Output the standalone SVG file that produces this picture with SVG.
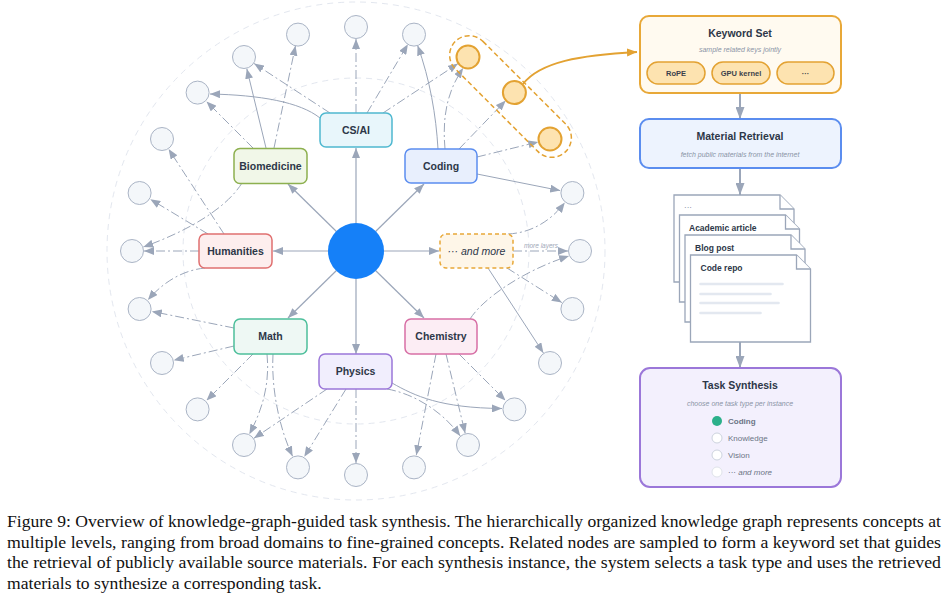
<svg xmlns="http://www.w3.org/2000/svg" width="951" height="603" viewBox="0 0 951 603">
<defs>
<style>
.ring{fill:none;stroke:#e3e7ef;stroke-width:1;stroke-dasharray:6 5}
.leaf{fill:#f4f7fa;stroke:#aab4c5;stroke-width:1}
.hl{fill:#fde3b0;stroke:#e3a232;stroke-width:2}
.ce{fill:none;stroke:#9ba6b9;stroke-width:1.2;marker-end:url(#ah)}
.e{fill:none;stroke:#9ba6b9;stroke-width:1;stroke-dasharray:9 3 2 3;marker-end:url(#ah)}
.es{fill:none;stroke:#9ba6b9;stroke-width:1;marker-end:url(#ah)}
.pa{fill:none;stroke:#9ba6b9;stroke-width:2;marker-end:url(#ahp)}
.nt{font-family:"Liberation Sans",Arial,sans-serif;font-weight:bold;font-size:10.5px;fill:#2d3748;text-anchor:middle}
.tt{font-family:"Liberation Sans",Arial,sans-serif;font-weight:bold;font-size:10.5px;fill:#2d3748;text-anchor:middle}
.st{font-family:"Liberation Sans",Arial,sans-serif;font-style:italic;font-size:7px;fill:#8a94a6;text-anchor:middle}
.pt{font-family:"Liberation Sans",Arial,sans-serif;font-weight:bold;font-size:7.5px;fill:#3a3f4a;text-anchor:middle}
.dt{font-family:"Liberation Sans",Arial,sans-serif;font-weight:bold;font-size:8.5px;fill:#2d3748}
.ot{font-family:"Liberation Sans",Arial,sans-serif;font-size:8px;fill:#6b7485}
.doc{fill:#ffffff;stroke:#9ba6b9;stroke-width:1.3}
.cap{font-family:"Liberation Serif","Times New Roman",serif;font-size:17.6px;fill:#111111}
</style>
<marker id="ah" viewBox="0 0 10 8" refX="10" refY="4" markerWidth="10" markerHeight="8" markerUnits="userSpaceOnUse" orient="auto"><path d="M0,0 L10,4 L0,8 z" fill="#9ba6b9"/></marker>
<marker id="aho" viewBox="0 0 10 8" refX="10" refY="4" markerWidth="10" markerHeight="8" markerUnits="userSpaceOnUse" orient="auto"><path d="M0,0 L10,4 L0,8 z" fill="#e3a232"/></marker>
<marker id="ahp" viewBox="0 0 12 9" refX="12" refY="4.5" markerWidth="12" markerHeight="9" markerUnits="userSpaceOnUse" orient="auto"><path d="M0,0 L12,4.5 L0,9 z" fill="#9ba6b9"/></marker>
</defs>

<!-- rings -->
<circle class="ring" cx="356" cy="251" r="173"/>
<circle class="ring" cx="356" cy="251" r="249"/>

<!-- connectors -->
<g id="connectors">
<!-- center to domains -->
<path class="ce" d="M356,223 L356,148"/>
<path class="ce" d="M356,279 L356,354"/>
<path class="ce" d="M328,251 L273,251"/>
<path class="ce" d="M384,251 L439,251"/>
<path class="ce" d="M375.8,231.2 L424,184"/>
<path class="ce" d="M336.2,231.2 L288,184"/>
<path class="ce" d="M336.2,270.8 L288,318"/>
<path class="ce" d="M375.8,270.8 L424,318"/>
<!-- Biomedicine -->
<path class="es" d="M266,148 L246.8,68.7"/>
<path class="e" d="M274,148 L295.5,45.7"/>
<path class="e" d="M253,148 L206.5,101.5"/>
<path class="e" d="M242,183 C225,210 185,232 143.3,247"/>
<!-- CS/AI -->
<path class="e" d="M330,113 L254.1,63.5"/>
<path class="es" d="M320,118 C300,102 260,95 210,94"/>
<path class="e" d="M356,113 L356,39"/>
<path class="e" d="M367,113 L407.9,44.3"/>
<path class="e" d="M383,113 L458,63.6"/>
<!-- Coding -->
<path class="es" d="M438,149 C436,115 430,80 417.6,45.4"/>
<path class="e" d="M445,149 C442,115 448,90 463.2,68"/>
<path class="e" d="M459,149 L505.7,100.6"/>
<path class="e" d="M477,157 L538.3,141.9"/>
<path class="es" d="M477,174 L560.2,190.6"/>
<!-- and more -->
<path class="e" d="M508,234 C530,233 550,222 564.8,202.6"/>
<path class="e" d="M513,251 L568,251"/>
<path class="e" d="M507,268 L561.8,302.6"/>
<path class="es" d="M488,268 L543.4,352.9"/>
<!-- Chemistry -->
<path class="e" d="M470,319 C482,300 520,272 569,255.9"/>
<path class="e" d="M459,354 L505.5,400.5"/>
<path class="e" d="M446,354 L465.2,433.3"/>
<path class="e" d="M436,354 L416.3,455.2"/>
<!-- Physics -->
<path class="es" d="M392,383 C415,396 440,408 502,408.5"/>
<path class="e" d="M387,389 C410,393 440,408 460.2,435.9"/>
<path class="e" d="M356,389 L356,463"/>
<path class="e" d="M346,389 L304.3,456.8"/>
<path class="e" d="M327,389 L253.9,438.3"/>
<!-- Math -->
<path class="e" d="M234,328 L151.8,311.4"/>
<path class="e" d="M234,346 L173.7,360.2"/>
<path class="e" d="M253,354 L206.5,400.5"/>
<path class="e" d="M267,354 C270,385 262,410 249.4,434.3"/>
<path class="e" d="M273,354 C271,390 280,430 292.6,456.3"/>
<!-- Humanities -->
<path class="e" d="M224,234 L168.6,149.1"/>
<path class="e" d="M208,234 L150.3,199.2"/>
<path class="e" d="M199,251 L144,251"/>
<path class="e" d="M205,268 C185,270 165,280 147.9,300"/>
<!-- to keyword set -->
<path d="M523,84 C540,62 580,55 637,52" fill="none" stroke="#e3a232" stroke-width="1.8" marker-end="url(#aho)"/>
<!-- panel arrows -->
<path class="pa" d="M740,93 L740,119"/>
<path class="pa" d="M740,168 L740,195"/>
<path class="pa" d="M740,342 L740,368"/>
</g>
<text x="541" y="248" font-family="Liberation Sans, Arial, sans-serif" font-style="italic" font-size="6.5" fill="#a0a8b8" text-anchor="middle">more layers</text>

<!-- leaves -->
<g id="leaves">
<circle class="leaf" cx="580" cy="251" r="11.5"/>
<circle class="leaf" cx="572.4" cy="193" r="11.5"/>
<circle class="leaf" cx="356" cy="27" r="11.5"/>
<circle class="leaf" cx="414" cy="34.6" r="11.5"/>
<circle class="leaf" cx="298" cy="34.6" r="11.5"/>
<circle class="leaf" cx="244" cy="57" r="11.5"/>
<circle class="leaf" cx="197.6" cy="92.6" r="11.5"/>
<circle class="leaf" cx="162" cy="139" r="11.5"/>
<circle class="leaf" cx="139.6" cy="193" r="11.5"/>
<circle class="leaf" cx="132" cy="251" r="11.5"/>
<circle class="leaf" cx="139.6" cy="309" r="11.5"/>
<circle class="leaf" cx="162" cy="363" r="11.5"/>
<circle class="leaf" cx="197.6" cy="409.4" r="11.5"/>
<circle class="leaf" cx="244" cy="445" r="11.5"/>
<circle class="leaf" cx="298" cy="467.4" r="11.5"/>
<circle class="leaf" cx="356" cy="475" r="11.5"/>
<circle class="leaf" cx="414" cy="467.4" r="11.5"/>
<circle class="leaf" cx="468" cy="445" r="11.5"/>
<circle class="leaf" cx="514.4" cy="409.4" r="11.5"/>
<circle class="leaf" cx="550" cy="363" r="11.5"/>
<circle class="leaf" cx="572.4" cy="309" r="11.5"/>
</g>
<g id="selected">
<rect x="-78" y="-19.5" width="156" height="39" rx="19.5" transform="translate(510.5,96.5) rotate(45)" fill="none" stroke="#e3a232" stroke-width="1.5" stroke-dasharray="5 3"/>
<circle class="hl" cx="468" cy="57" r="11.5"/>
<circle class="hl" cx="514.4" cy="92.6" r="11.5"/>
<circle class="hl" cx="550" cy="139" r="11.5"/>
</g>

<!-- center -->
<g id="root"><circle cx="356" cy="251" r="28" fill="#1580f8"/></g>

<!-- domain nodes -->
<g id="csai"><rect x="320" y="113" width="72" height="34" rx="6" fill="#e8f6fb" stroke="#4fb8d0" stroke-width="1.5"/><text class="nt" x="356" y="133.7">CS/AI</text></g>
<g id="biomedicine"><rect x="234" y="148.5" width="73" height="35" rx="6" fill="#f1f7e8" stroke="#8db04f" stroke-width="1.5"/><text class="nt" x="270.5" y="169.7">Biomedicine</text></g>
<g id="coding"><rect x="405" y="149" width="72" height="34" rx="6" fill="#e8effd" stroke="#5b8def" stroke-width="1.5"/><text class="nt" x="441" y="169.7">Coding</text></g>
<g id="humanities"><rect x="199" y="234" width="73" height="34" rx="6" fill="#fdeeee" stroke="#e07070" stroke-width="1.5"/><text class="nt" x="235.5" y="254.7">Humanities</text></g>
<g id="andmore"><rect x="440" y="234" width="73" height="34" rx="6" fill="#fef6e8" stroke="#e8a838" stroke-width="1.5" stroke-dasharray="4 3"/><text x="476.5" y="254.7" font-family="Liberation Sans, Arial, sans-serif" font-style="italic" font-size="10.5" fill="#2d3748" text-anchor="middle">··· and more</text></g>
<g id="math"><rect x="234" y="319" width="73" height="35" rx="6" fill="#eef8f4" stroke="#4dbf9b" stroke-width="1.5"/><text class="nt" x="270.5" y="340.2">Math</text></g>
<g id="chemistry"><rect x="405" y="319" width="72" height="35" rx="6" fill="#fcedf4" stroke="#d76fa5" stroke-width="1.5"/><text class="nt" x="441" y="340.2">Chemistry</text></g>
<g id="physics"><rect x="319" y="354" width="73" height="35" rx="6" fill="#f1eefd" stroke="#9b77d9" stroke-width="1.5"/><text class="nt" x="355.5" y="375.2">Physics</text></g>

<!-- right panel -->
<g id="keyword-set">
<rect x="640" y="16" width="201" height="77" rx="9" fill="#fffaf0" stroke="#e8a838" stroke-width="2"/>
<text class="tt" x="740" y="37">Keyword Set</text>
<text class="st" x="740" y="52">sample related keys jointly</text>
<rect x="647" y="62" width="58" height="22" rx="11" fill="#fde3b0" stroke="#e3a232" stroke-width="1.5"/>
<text class="pt" x="676" y="75.8">RoPE</text>
<rect x="712" y="62" width="58" height="22" rx="11" fill="#fde3b0" stroke="#e3a232" stroke-width="1.5"/>
<text class="pt" x="741" y="75.8">GPU kernel</text>
<rect x="777" y="62" width="57" height="22" rx="11" fill="#fde3b0" stroke="#e3a232" stroke-width="1.5"/>
<text class="pt" x="805.5" y="75.8">···</text>
</g>
<g id="material-retrieval">
<rect x="640" y="119" width="201" height="49" rx="9" fill="#edf3fe" stroke="#5b8def" stroke-width="2"/>
<text class="tt" x="740" y="140">Material Retrieval</text>
<text class="st" x="740" y="157">fetch public materials from the internet</text>
</g>
<g id="documents">
<g transform="translate(674,195)"><path class="doc" d="M0,0 H106 L120,14 V87 H0 Z"/><path class="doc" d="M106,0 V14 H120" fill="none"/><text x="10" y="15" font-family="Liberation Sans, Arial, sans-serif" font-size="8" fill="#6b7485">···</text></g>
<g transform="translate(679.5,215)"><path class="doc" d="M0,0 H106 L120,14 V87 H0 Z"/><path class="doc" d="M106,0 V14 H120" fill="none"/><text class="dt" x="9.5" y="16">Academic article</text></g>
<g transform="translate(685,235)"><path class="doc" d="M0,0 H106 L120,14 V87 H0 Z"/><path class="doc" d="M106,0 V14 H120" fill="none"/><text class="dt" x="10" y="16">Blog post</text></g>
<g transform="translate(690.5,255)"><path class="doc" d="M0,0 H106 L120,14 V87 H0 Z"/><path class="doc" d="M106,0 V14 H120" fill="none"/><text class="dt" x="10" y="16">Code repo</text>
<g stroke="#e3e8f0" stroke-width="2.6" stroke-linecap="round"><path d="M10,29 H92"/><path d="M10,39 H80"/><path d="M10,48 H88"/><path d="M10,58 H70"/></g></g>
</g>
<g id="task-synthesis">
<rect x="640" y="368" width="201" height="119" rx="10" fill="#f3f0fd" stroke="#9b77d9" stroke-width="2"/>
<text class="tt" x="740" y="389">Task Synthesis</text>
<text class="st" x="740" y="405.5">choose one task type per instance</text>
<circle cx="717" cy="421" r="5" fill="#2bb08a"/>
<text class="ot" x="728" y="424" font-weight="bold" fill="#2d3748">Coding</text>
<circle cx="717" cy="438" r="5" fill="#ffffff" stroke="#cdd3de" stroke-width="1"/>
<text class="ot" x="728" y="441">Knowledge</text>
<circle cx="717" cy="455" r="5" fill="#ffffff" stroke="#cdd3de" stroke-width="1"/>
<text class="ot" x="728" y="458">Vision</text>
<circle cx="717" cy="472" r="5" fill="#ffffff" stroke="#dfe3ea" stroke-width="1"/>
<text class="ot" x="728" y="475" font-style="italic" fill="#aab1bf">··· and more</text>
</g>

<!-- caption -->
<g id="caption">
<text class="cap" x="7" y="527" textLength="934" lengthAdjust="spacingAndGlyphs">Figure 9: Overview of knowledge-graph-guided task synthesis. The hierarchically organized knowledge graph represents concepts at</text>
<text class="cap" x="7" y="547.5" textLength="934" lengthAdjust="spacingAndGlyphs">multiple levels, ranging from broad domains to fine-grained concepts. Related nodes are sampled to form a keyword set that guides</text>
<text class="cap" x="7" y="568" textLength="934" lengthAdjust="spacingAndGlyphs">the retrieval of publicly available source materials. For each synthesis instance, the system selects a task type and uses the retrieved</text>
<text class="cap" x="7" y="588.5">materials to synthesize a corresponding task.</text>
</g>
</svg>
